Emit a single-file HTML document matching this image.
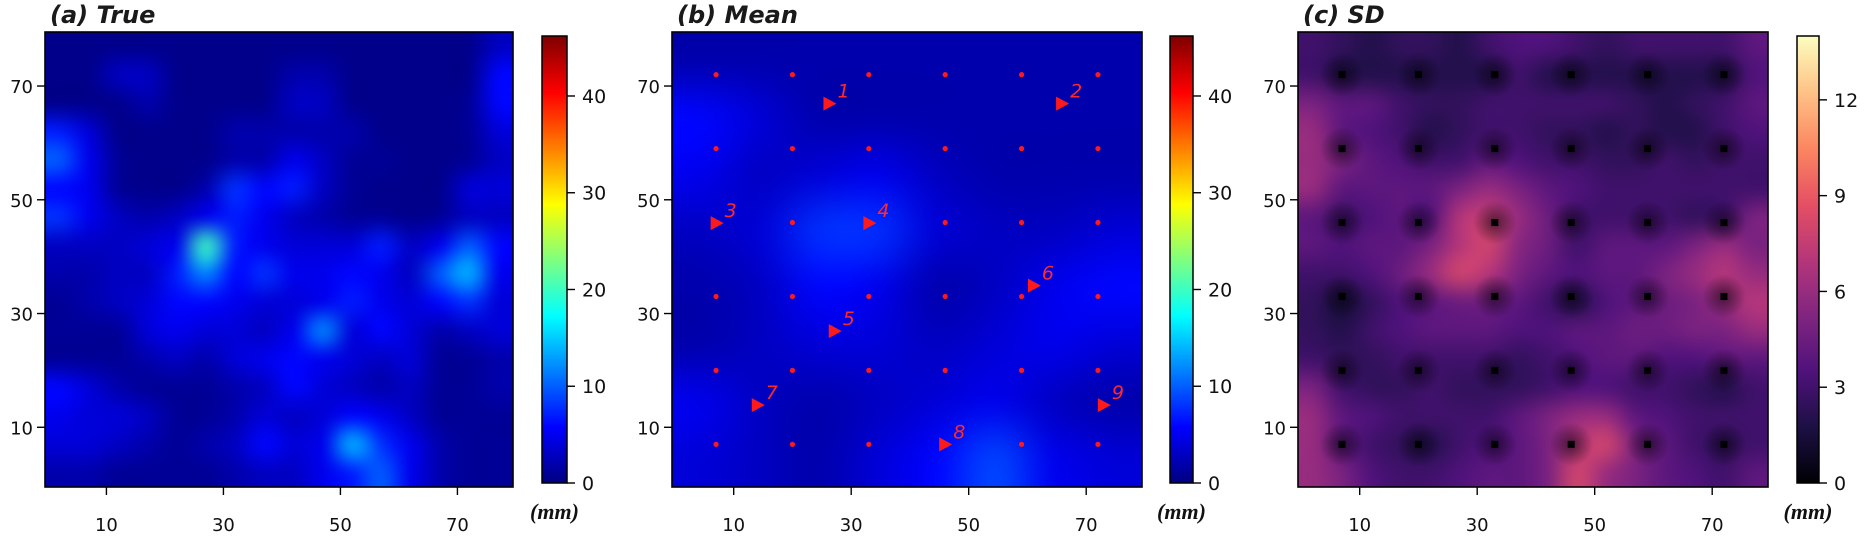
<!DOCTYPE html>
<html><head><meta charset="utf-8"><style>
body{margin:0;background:#fff;width:1869px;height:539px;overflow:hidden;position:relative}
canvas,svg{position:absolute;left:0;top:0}
</style></head><body>
<canvas id="cv" width="1869" height="539"></canvas>
<svg id="ov" width="1869" height="539" font-family="'DejaVu Sans','Liberation Sans',sans-serif"></svg>
<script>
// ---- data (rows from top y=80 to bottom y=0) ----
const trueGrid = [
[0.5,0.5,0.5,0.5,0.5,0.5,0.5,0.5,0.5,0.5,0.5,0.5,0.5,0.5,0.5,3],
[0.5,0.5,3,3,0.5,0.5,0.5,0.5,2,2,0.5,0.5,0.5,0.5,0.5,6],
[0.5,0.5,0.5,2,0.5,0.5,0.5,0.5,3,3,0.5,0.5,0.5,0.5,1,6],
[7,4,0.5,0.5,0.5,0.5,2,2,2,2,2,0.5,0.5,0.5,1,4],
[10,5,1,0.5,0.5,0.5,2,2,5,3,1,1,0.5,0.5,1,3],
[6,5,1,0.5,0.5,2,8,6,7,3,1,0.5,0.5,0.5,4,4],
[8,5,3,2,3,5,7,5,3,2,1,1,0.5,1,3,3],
[3,3,3,4,5,20,7,5,4,4,4,7,3,5,10,6],
[2,2,3,3,7,12,6,8,5,5,6,5,3,10,14,5],
[1,2,3,4,6,6,5,4,4,5,7,5,4,6,8,4],
[1,1,1,4,5,4,4,3,5,12,4,6,4,2,3,4],
[1,1,1,2,3,2,4,5,6,5,4,3,4,1,1,2],
[6,4,2,1,1,1,2,3,6,4,3,2,3,1,1,2],
[5,4,4,3,1,1,2,4,3,4,6,5,3,1,1,1],
[4,4,3,2,1,2,3,6,4,5,14,8,5,2,1,1],
[2,2,1,1,1,1,2,3,3,5,7,10,5,2,1,1]];
const meanGrid = [
[2,2,2,2,2,2,2,2],
[6,4,2,2,2,2,2,2],
[5,3,4,5,3,2,2,2],
[3,4,8,8,4,3,3,4],
[2,3,6,5,2,3,5,6],
[2,3,4,4,3,4,5,4],
[5,3,2,3,4,5,3,2],
[4,3,2,4,6,9,5,4]];
const sdGrid = [
[3,2.5,2,2.5,2.5,2,3,3.5,3.5,3,2.5,3,3,3,3,4],
[3,2,2,2,2,2,2,3,2,2,2,2,2,2,2,3.5],
[5,4,4,3,2.5,2.5,3,3,3,3,3,2.5,2,2.5,3,4],
[6,4,3.5,3,2,2.5,3,3,2.5,2.5,2,2.5,2,2,3,3.5],
[6,5,4,3.5,3,3,4,3.5,3,3,2.5,2.5,3,2.5,3,3],
[6,4,4,4,4,5,6,5,4,3.5,3,3,3,3,3,3],
[4,3,3.5,4,3.5,7,7.5,6,4.5,3,3,3,3,2.5,3,5],
[4,3.5,4,4,5,7,8,5.5,4.5,3,4,4,4,5,6,5],
[3,3,3.5,4.5,6,8,7,5,4,3.5,4,4,5,6,7,6],
[2.5,1.5,2.5,3.5,4,4.5,4.5,4,3,2,3.5,4,4.5,5,6,7],
[2.5,2,3,3.5,4,4,4,3.5,3.5,4,4,4.5,4.5,5,5,6],
[3,2.5,2.5,3,3,3,3,2.5,3,3.5,4,4,3.5,3.5,4,4],
[5,3,2.5,2.5,3,2.5,2.5,2.5,3,3.5,3.5,3,3,2.5,2,3],
[6,4,3.5,3,3,3,3,4,5,6,6,4,3.5,3,3,3],
[6,4,3,2.5,2,3,3.5,4,5,7,8,5,4,3,2.5,3],
[6,5,3.5,3,3,3.5,4,4,5,8,6,5,4,3.5,3,4]];
const gaugeCoords = [7,20,33,46,59,72];
const markerX = [26.3,65.9,7.1,33.1,27.2,61.1,14.1,46,73];
const markerY = [66.9,66.9,45.9,45.9,26.9,34.9,13.9,7,13.9];
const markerLabels = ["1","2","3","4","5","6","7","8","9"];
const axisTicks = [10,30,50,70];
const jetTicks = [0,10,20,30,40];
const sdTicks = [0,3,6,9,12];
const jetMax = 46.2, sdMax = 14.0;

// ---- layout ----
const panels = [
 {L:45,T:32,R:513,B:487,cbL:542,cbR:567,title:"(a) True"},
 {L:672,T:32,R:1142,B:487,cbL:1170,cbR:1193,title:"(b) Mean"},
 {L:1298,T:32,R:1768,B:487,cbL:1797,cbR:1819,title:"(c) SD"}];
const cbT=36, cbB=483;
function xPix(p,u){return p.L+(u+0.5)*(p.R-p.L)/80;}
function yPix(p,v){return p.B-(v+0.5)*(p.B-p.T)/80;}

function jet(t){t=Math.max(0,Math.min(1,t));const c=x=>Math.round(255*Math.max(0,Math.min(1,1.5-Math.abs(x))));
 return [c(4*t-3),c(4*t-2),c(4*t-1)];}
const magStops=[[0,0,4],[28,16,68],[79,18,123],[129,37,129],[181,54,122],[229,80,100],[251,135,97],[254,194,135],[252,253,191]];
function magma(t){t=Math.max(0,Math.min(1,t))*8;const i=Math.min(7,Math.floor(t)),f=t-i,a=magStops[i],b=magStops[i+1];
 return [0,1,2].map(k=>Math.round(a[k]+(b[k]-a[k])*f));}

const cv=document.getElementById('cv'),ctx=cv.getContext('2d');
function drawGrid(p,grid,cmap,vmax){
 const n=grid.length,tmp=document.createElement('canvas');tmp.width=n;tmp.height=n;
 const tc=tmp.getContext('2d'),img=tc.createImageData(n,n);
 for(let r=0;r<n;r++)for(let c=0;c<n;c++){const col=cmap(grid[r][c]/vmax),i=(r*n+c)*4;
  img.data[i]=col[0];img.data[i+1]=col[1];img.data[i+2]=col[2];img.data[i+3]=255;}
 tc.putImageData(img,0,0);ctx.imageSmoothingEnabled=true;ctx.imageSmoothingQuality='high';
 ctx.drawImage(tmp,p.L,p.T,p.R-p.L,p.B-p.T);
}
function drawCbar(p,cmap){for(let y=cbT;y<cbB;y++){const col=cmap((cbB-y)/(cbB-cbT));
 ctx.fillStyle=`rgb(${col})`;ctx.fillRect(p.cbL,y,p.cbR-p.cbL,1);}}
drawGrid(panels[0],trueGrid,jet,jetMax);
drawGrid(panels[1],meanGrid,jet,jetMax);
drawGrid(panels[2],sdGrid,magma,sdMax);
drawCbar(panels[0],jet);drawCbar(panels[1],jet);drawCbar(panels[2],magma);
// dark halos around SD gauges
{const p=panels[2];ctx.save();ctx.beginPath();ctx.rect(p.L,p.T,p.R-p.L,p.B-p.T);ctx.clip();
 gaugeCoords.forEach(gy=>gaugeCoords.forEach(gx=>{const x=xPix(p,gx),y=yPix(p,gy);
  const g=ctx.createRadialGradient(x,y,0,x,y,22);g.addColorStop(0,'rgba(0,0,4,0.55)');g.addColorStop(1,'rgba(0,0,4,0)');
  ctx.fillStyle=g;ctx.fillRect(x-22,y-22,44,44);}));ctx.restore();}

// ---- overlay ----
const NS='http://www.w3.org/2000/svg',ov=document.getElementById('ov');
function el(tag,attrs,text){const e=document.createElementNS(NS,tag);for(const k in attrs)e.setAttribute(k,attrs[k]);if(text!==undefined)e.textContent=text;ov.appendChild(e);return e;}

const pc=panels[2];
gaugeCoords.forEach(gy=>gaugeCoords.forEach(gx=>{
 const s=el('rect',{x:xPix(pc,gx)-3.5,y:yPix(pc,gy)-3.5,width:7,height:7,fill:'#000'});
 
 
}));
const pb=panels[1];
gaugeCoords.forEach(gy=>gaugeCoords.forEach(gx=>{
 const covered=markerX.some((mx,i)=>Math.abs(mx-gx)<2&&Math.abs(markerY[i]-gy)<2);
 if(covered)return;
 const d=el('circle',{cx:xPix(pb,gx),cy:yPix(pb,gy),r:2.6,fill:'#ff1a1a'});
 
 
}));
markerX.forEach((mx,i)=>{
 const x=xPix(pb,mx),y=yPix(pb,markerY[i]);
 const t=el('polygon',{points:`${x-6},${y-7} ${x+7},${y} ${x-6},${y+7}`,fill:'#ff1a1a'});
 
 
 const lb=el('text',{x:x+8,y:y-6,fill:'#ff2a2a','font-size':19,'font-style':'italic'},markerLabels[i]);
 
 
});

panels.forEach((p,pi)=>{
 const fr=el('rect',{x:p.L,y:p.T,width:p.R-p.L,height:p.B-p.T,fill:'none',stroke:'#000','stroke-width':1.6});
 
 
 const ti=el('text',{x:p.L+5,y:23,'font-size':24,'font-weight':'bold','font-style':'italic',fill:'#1a1a1a'},p.title);
 
 
 axisTicks.forEach(v=>{
  const x=xPix(p,v);
  el('line',{x1:x,y1:p.B,x2:x,y2:p.B+8,stroke:'#000','stroke-width':1.4});
  const tx=el('text',{x:x,y:531,'font-size':18,'text-anchor':'middle',fill:'#111'},String(v));
  
  
  const y=yPix(p,v);
  el('line',{x1:p.L-8,y1:y,x2:p.L,y2:y,stroke:'#000','stroke-width':1.4});
  const ty=el('text',{x:p.L-12,y:y+7,'font-size':18,'text-anchor':'end',fill:'#111'},String(v));
  
  
 });
 const cf=el('rect',{x:p.cbL,y:cbT,width:p.cbR-p.cbL,height:cbB-cbT,fill:'none',stroke:'#000','stroke-width':1.5});
 
 
 const ticks=pi==2?sdTicks:jetTicks,vmax=pi==2?sdMax:jetMax;
 ticks.forEach(v=>{
  const y=cbB-v/vmax*(cbB-cbT);
  el('line',{x1:p.cbR,y1:y,x2:p.cbR+8,y2:y,stroke:'#000','stroke-width':1.4});
  const ct=el('text',{x:p.cbR+15,y:y+7,'font-size':19,fill:'#111'},String(v));
  
  
 });
 const u=el('text',{x:(p.cbL+p.cbR)/2,y:519,'font-size':22,'font-weight':'bold','font-style':'italic','text-anchor':'middle','font-family':"'Liberation Serif',serif",fill:'#111'},'(mm)');
 
 
});
</script>
</body></html>
